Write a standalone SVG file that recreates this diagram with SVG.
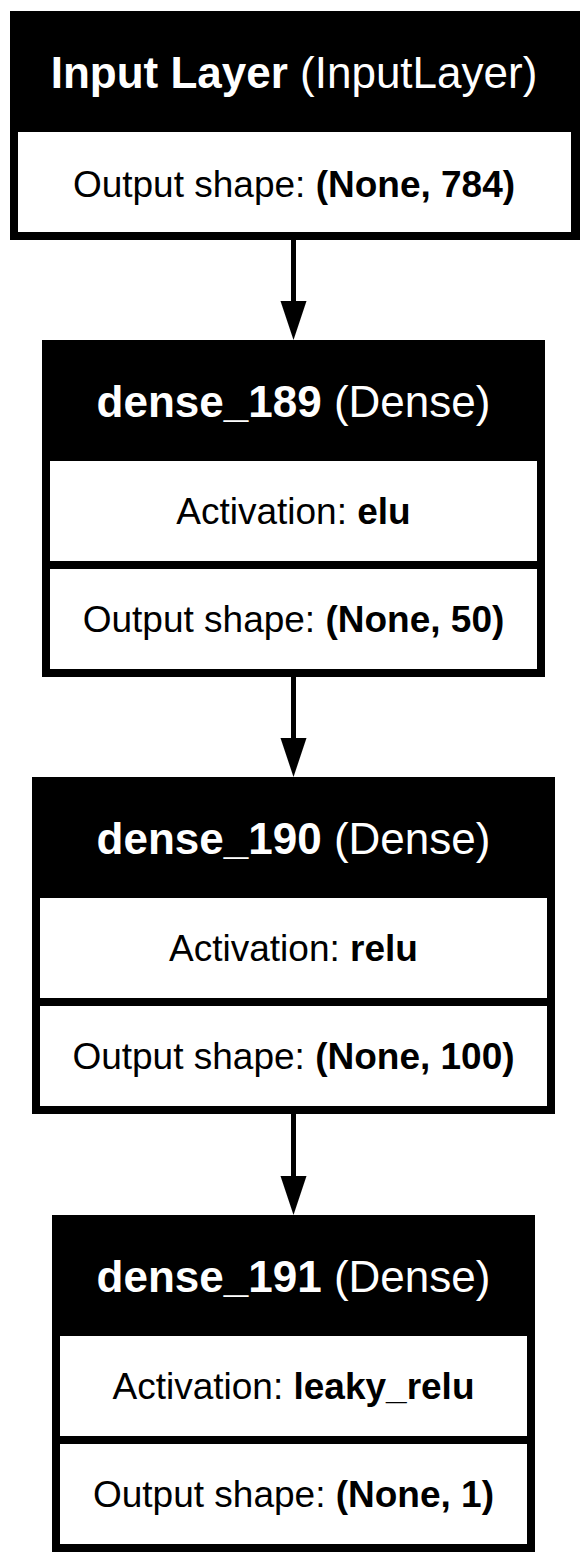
<svg xmlns="http://www.w3.org/2000/svg" width="588" height="1564" viewBox="0 0 588 1564">
<style>
.frame{fill:#000}
.cell{fill:#fff}
.t{font-family:"Liberation Sans",Arial,Helvetica,sans-serif;text-anchor:middle}
.title{font-size:44px;fill:#fff}
.body{font-size:37px;fill:#000}
.b{font-weight:bold}
.edge{stroke:#000;stroke-width:5;fill:none}
.head{fill:#000}
</style>
<rect width="588" height="1564" fill="#fff"/>
<g id="connectors">
  <line class="edge" x1="293.5" y1="240" x2="293.5" y2="303"/>
  <polygon class="head" points="280.5,301 306.5,301 293.5,340"/>
  <line class="edge" x1="293.5" y1="677" x2="293.5" y2="740"/>
  <polygon class="head" points="280.5,738 306.5,738 293.5,777"/>
  <line class="edge" x1="293.5" y1="1114" x2="293.5" y2="1178"/>
  <polygon class="head" points="280.5,1176 306.5,1176 293.5,1215"/>
</g>
<g id="input_layer">
  <rect class="frame" x="10" y="11" width="570" height="229"/>
  <rect class="cell" x="18" y="132" width="553" height="100"/>
  <text class="t title" x="294" y="88"><tspan class="b">Input Layer</tspan> (InputLayer)</text>
  <text class="t body" x="294" y="197">Output shape: <tspan class="b">(None, 784)</tspan></text>
</g>
<g id="dense_189">
  <rect class="frame" x="42" y="340" width="503" height="337"/>
  <rect class="cell" x="50" y="461" width="487" height="100"/>
  <rect class="cell" x="50" y="569" width="487" height="100"/>
  <text class="t title" x="293.5" y="417"><tspan class="b">dense_189</tspan> (Dense)</text>
  <text class="t body" x="293.5" y="524">Activation: <tspan class="b">elu</tspan></text>
  <text class="t body" x="293.5" y="632">Output shape: <tspan class="b">(None, 50)</tspan></text>
</g>
<g id="dense_190">
  <rect class="frame" x="32" y="777" width="523" height="337"/>
  <rect class="cell" x="40" y="898" width="507" height="100"/>
  <rect class="cell" x="40" y="1006" width="507" height="100"/>
  <text class="t title" x="293.5" y="854"><tspan class="b">dense_190</tspan> (Dense)</text>
  <text class="t body" x="293.5" y="961">Activation: <tspan class="b">relu</tspan></text>
  <text class="t body" x="293.5" y="1069">Output shape: <tspan class="b">(None, 100)</tspan></text>
</g>
<g id="dense_191">
  <rect class="frame" x="52" y="1215" width="483" height="337"/>
  <rect class="cell" x="60" y="1336" width="467" height="100"/>
  <rect class="cell" x="60" y="1444" width="467" height="100"/>
  <text class="t title" x="293.5" y="1292"><tspan class="b">dense_191</tspan> (Dense)</text>
  <text class="t body" x="293.5" y="1399">Activation: <tspan class="b">leaky_relu</tspan></text>
  <text class="t body" x="293.5" y="1507">Output shape: <tspan class="b">(None, 1)</tspan></text>
</g>
</svg>
